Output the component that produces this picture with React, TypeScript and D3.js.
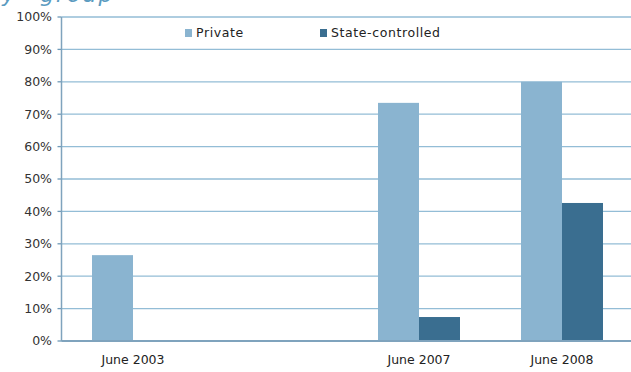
import React from "react";
import * as d3 from "d3";

const categories = ["June 2003", "", "June 2007", "June 2008"];
const seriesNames = ["Private", "State-controlled"];
const privateValues = [26.5, null, 73.5, 80];
const stateValues = [null, null, 7.4, 42.6];
const yTicks = [0, 10, 20, 30, 40, 50, 60, 70, 80, 90, 100];
const colors = ["#8ab4d0", "#3a6e90"];

export default function App() {
  const W = 631, H = 372;
  const left = 61.5, top = 17, bottom = 341;
  const step = 143;
  const x = d3.scaleBand<string>().domain(categories.map((c, i) => String(i))).range([left, left + step * categories.length]).paddingInner(0).paddingOuter(0);
  const inner = d3.scaleBand<string>().domain(seriesNames).range([0, 82]);
  const y = d3.scaleLinear().domain([0, 100]).range([bottom, top]);
  const series = [privateValues, stateValues];
  const groupOffset = (x.bandwidth() - 82) / 2;
  return (
    <svg width={W} height={H} style={{ position: "absolute", left: 0, top: 0, background: "#fff" }} fontFamily="DejaVu Sans, Verdana, sans-serif">
      <text x={-14} y={2} fontSize={22} fontStyle="italic" fill="#5b9bc0" wordSpacing={14} letterSpacing={2}>by group</text>
      {yTicks.map((t) => (
        <g key={t}>
          <line x1={left} x2={W} y1={y(t)} y2={y(t)} stroke="#93bdd6" strokeWidth={t === 0 ? 2 : 1.3} />
          <line x1={left - 4} x2={left} y1={y(t)} y2={y(t)} stroke="#6f9ab8" strokeWidth={1.3} />
          <text x={52} y={y(t)} dy="0.35em" textAnchor="end" fontSize={12.5} fill="#333">{t}%</text>
        </g>
      ))}
      {series.map((vals, si) =>
        vals.map((v, ci) =>
          v == null ? null : (
            <rect key={si + "-" + ci}
              x={(x(String(ci)) as number) + groupOffset + (inner(seriesNames[si]) as number)}
              width={inner.bandwidth()}
              y={y(v)} height={y(0) - y(v)} fill={colors[si]} />
          )
        )
      )}
      <line x1={left} x2={W} y1={y(0)} y2={y(0)} stroke="#7fa3bd" strokeWidth={2} />
      <line x1={left} x2={left} y1={top} y2={bottom} stroke="#7fa3bd" strokeWidth={1.5} />
      {categories.map((c, i) => (
        <text key={i} x={(x(String(i)) as number) + x.bandwidth() / 2} y={364} textAnchor="middle" fontSize={12.5} fill="#222">{c}</text>
      ))}
      {seriesNames.map((s, i) => (
        <g key={s} transform={`translate(${[185, 320][i]},29)`}>
          <rect x={0} y={0} width={7} height={8} fill={colors[i]} />
          <text x={11} y={4} dy="0.35em" fontSize={12.5} fill="#222" letterSpacing={0.6}>{s}</text>
        </g>
      ))}
    </svg>
  );
}
